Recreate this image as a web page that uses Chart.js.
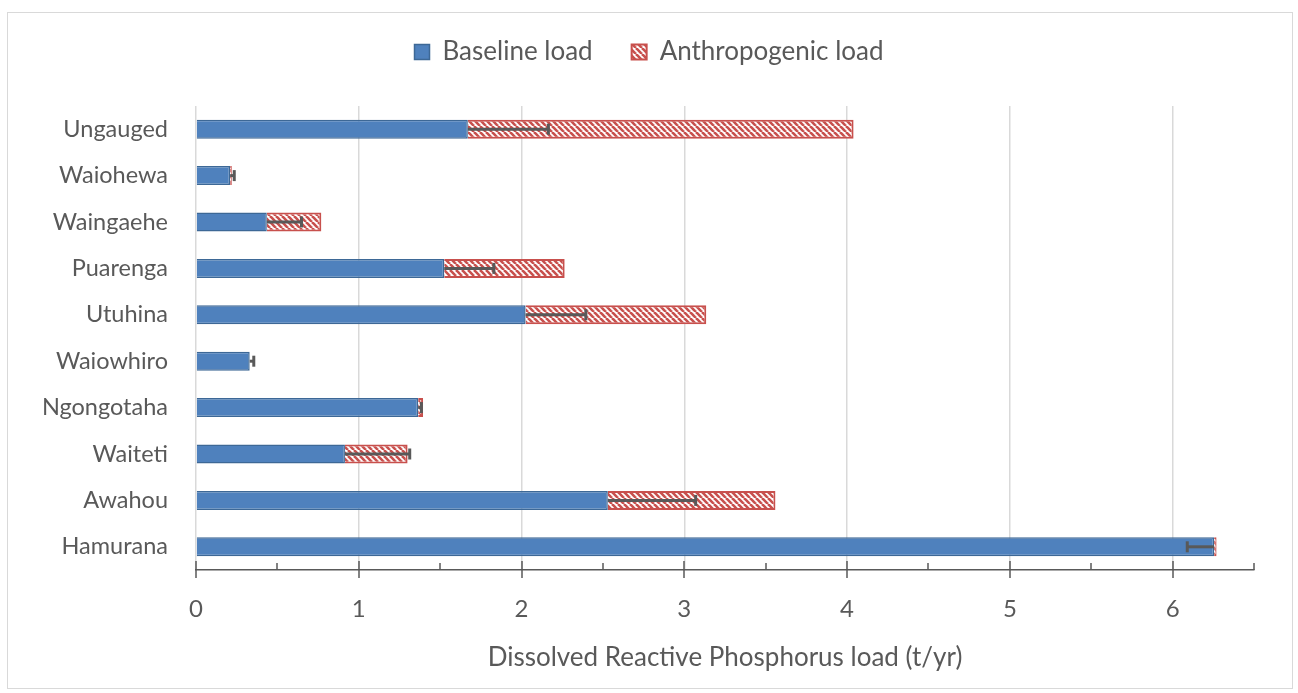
<!DOCTYPE html>
<html>
<head>
<meta charset="utf-8">
<script src="https://cdn.jsdelivr.net/npm/chart.js@4/dist/chart.umd.min.js"></script>
<style>
    html, body { margin: 0; padding: 0; background: #fff; }
    #wrap { width: 1298px; height: 693px; }
</style>
</head>
<body>
<div id="wrap"><canvas id="chart"></canvas></div>
<script>
// top to bottom, as shown
const CATCHMENTS = ['Ungauged', 'Waiohewa', 'Waingaehe', 'Puarenga', 'Utuhina',
                    'Waiowhiro', 'Ngongotaha', 'Waiteti', 'Awahou', 'Hamurana'];
const BASELINE = [1.67, 0.21, 0.435, 1.525, 2.025, 0.33, 1.365, 0.915, 2.53, 6.255];
const ANTHROPOGENIC = [2.37, 0.01, 0.335, 0.74, 1.11, 0, 0.03, 0.385, 1.03, 0.015];
// where each error bar ends (it starts at the end of the baseline bar)
const ERROR_END = [2.165, 0.235, 0.648, 1.83, 2.395, 0.355, 1.385, 1.313, 3.07, 6.09];
const X_TICKS = [0, 1, 2, 3, 4, 5, 6];

const FONT = 'Lato';
const TEXT = '#595959';
const RED = '#C8504D';

function makeHatch() {
    let tile = document.createElement('canvas');
    tile.width = 6;
    tile.height = 6;
    let ctx = tile.getContext('2d');

    ctx.fillStyle = '#fff';
    ctx.fillRect(0, 0, 6, 6);
    ctx.strokeStyle = RED;
    ctx.lineWidth = 2.6;
    for (let k of [-6, 0, 6]) {
        ctx.beginPath();
        ctx.moveTo(k, 0);
        ctx.lineTo(k + 6, 6);
        ctx.stroke();
    }

    return ctx.createPattern(tile, 'repeat');
}

const framePlugin = {
    id: 'frame',
    beforeDraw(chart) {
        let ctx = chart.ctx;
        ctx.save();
        ctx.fillStyle = '#fff';
        ctx.fillRect(0, 0, chart.width, chart.height);
        ctx.strokeStyle = '#D9D9D9';
        ctx.lineWidth = 1;
        ctx.strokeRect(7.5, 12.5, 1285, 676);
        ctx.restore();
    }
};

const legendHeight = {
    id: 'legendHeight',
    beforeInit(chart) {
        let fit = chart.legend.fit;
        chart.legend.fit = function() {
            fit.call(this);
            this.height = 106;
        };
    }
};

const axisTicks = {
    id: 'axisTicks',
    afterDraw(chart) {
        let ctx = chart.ctx;
        let x = chart.scales.x;
        let y0 = chart.chartArea.bottom;

        ctx.save();
        ctx.strokeStyle = TEXT;
        ctx.lineWidth = 1.5;
        for (let v = 0; v <= 6.5; v += 0.5) {
            let px = Math.round(x.getPixelForValue(v));
            let major = Number.isInteger(v);
            ctx.beginPath();
            ctx.moveTo(px, y0 - (major ? 9 : 7));
            ctx.lineTo(px, y0 + (major ? 8 : 0));
            ctx.stroke();
        }
        ctx.restore();
    }
};

const errorBars = {
    id: 'errorBars',
    afterDatasetsDraw(chart) {
        let ctx = chart.ctx;
        let x = chart.scales.x;
        let meta = chart.getDatasetMeta(0);

        ctx.save();
        ctx.strokeStyle = '#595959';
        ctx.lineWidth = 3;
        ctx.lineCap = 'butt';
        meta.data.forEach((bar, i) => {
            let x0 = x.getPixelForValue(BASELINE[i]);
            let x1 = x.getPixelForValue(ERROR_END[i]);
            ctx.beginPath();
            ctx.moveTo(x0, bar.y);
            ctx.lineTo(x1, bar.y);
            ctx.stroke();
            ctx.beginPath();
            ctx.moveTo(x1, bar.y - 5.5);
            ctx.lineTo(x1, bar.y + 5.5);
            ctx.stroke();
        });
        ctx.restore();
    }
};

let ctx = document.getElementById('chart').getContext('2d');

new Chart(ctx, {
    type: 'bar',
    plugins: [framePlugin, legendHeight, axisTicks, errorBars],
    data: {
        labels: CATCHMENTS,
        datasets: [
            {
                label: 'Baseline load',
                data: BASELINE,
                backgroundColor: '#4F81BD',
                borderColor: '#3D6896',
                borderWidth: 1.5,
                barPercentage: 0.41,
                categoryPercentage: 1
            },
            {
                label: 'Anthropogenic load',
                data: ANTHROPOGENIC,
                backgroundColor: makeHatch(),
                borderColor: RED,
                borderWidth: 2,
                barPercentage: 0.41,
                categoryPercentage: 1
            }
        ]
    },
    options: {
        indexAxis: 'y',
        responsive: true,
        maintainAspectRatio: false,
        animation: false,
        layout: {
            padding: 0
        },
        scales: {
            x: {
                stacked: true,
                min: 0,
                max: 6.5,
                afterFit: scale => { scale.height = 693 - 570; },
                afterBuildTicks: scale => {
                    scale.ticks = [];
                    for (let v = 0; v <= 6.5; v += 0.5)
                        scale.ticks.push({ value: v });
                },
                ticks: {
                    color: TEXT,
                    padding: 25,
                    maxRotation: 0,
                    autoSkip: false,
                    font: { family: FONT, size: 24 },
                    callback: v => X_TICKS.includes(v) ? String(v) : ''
                },
                grid: {
                    drawTicks: false,
                    lineWidth: 1.5,
                    color: c => Number.isInteger(c.tick?.value) ? '#D9D9D9' : 'rgba(0,0,0,0)'
                },
                border: { color: TEXT, width: 1.5 },
                title: {
                    display: true,
                    text: 'Dissolved Reactive Phosphorus load (t/yr)',
                    color: TEXT,
                    font: { family: FONT, size: 26 },
                    padding: { top: 0, bottom: 20 }
                }
            },
            y: {
                stacked: true,
                afterFit: scale => { scale.width = 196; },
                ticks: {
                    color: TEXT,
                    padding: 28,
                    font: { family: FONT, size: 23.5 }
                },
                grid: { display: false, drawTicks: false },
                border: { display: false }
            },
            // empty right-hand gutter so the legend stays centred on the whole figure
            gutter: {
                type: 'linear',
                position: 'right',
                afterFit: scale => { scale.width = 44; },
                ticks: { display: false },
                grid: { display: false, drawTicks: false },
                border: { display: false }
            }
        },
        plugins: {
            legend: {
                position: 'top',
                labels: {
                    color: TEXT,
                    boxWidth: 15,
                    boxHeight: 15,
                    padding: 39,
                    font: { family: FONT, size: 26 }
                }
            },
            tooltip: { enabled: false }
        }
    }
});
</script>
</body>
</html>
